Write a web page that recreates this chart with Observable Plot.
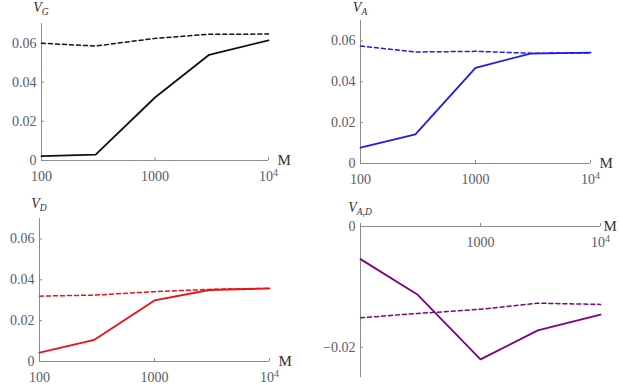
<!DOCTYPE html>
<html><head><meta charset="utf-8">
<script src="https://cdn.jsdelivr.net/npm/d3@7"></script>
<script src="https://cdn.jsdelivr.net/npm/@observablehq/plot@0.6"></script>
<style>
body{margin:0;background:#fff;}
#wrap{position:relative;width:623px;height:385px;overflow:hidden;}
.p{position:absolute;}
</style></head><body><div id="wrap"></div>
<script>
const M = [100, 300, 1000, 3000, 10000];
const vGSolid = [0.0022, 0.0030, 0.0322, 0.0540, 0.0614];
const vGDashed = [0.0599, 0.0585, 0.0624, 0.0645, 0.0646];
const vASolid = [0.0078, 0.0143, 0.0468, 0.0538, 0.0543];
const vADashed = [0.0575, 0.0546, 0.0549, 0.0540, 0.0541];
const vDSolid = [0.0044, 0.0106, 0.0299, 0.0350, 0.0358];
const vDDashed = [0.0320, 0.0325, 0.0342, 0.0353, 0.0358];
const vADSolid = [-0.0054, -0.0113, -0.0220, -0.0172, -0.0146];
const vADDashed = [-0.0151, -0.0144, -0.0137, -0.0127, -0.0129];
const xTicks = [100, 1000, 10000];
const xTickLabels = ["100", "1000", "10^4"];
const yTicksPos = [0, 0.02, 0.04, 0.06];
const yTickLabelsPos = ["0", "0.02", "0.04", "0.06"];
const yTicksNeg = [0, -0.02];
const yTickLabelsNeg = ["0", "−0.02"];

const AXIS = "#8c8c8c", LABEL = "#5a5a6c", FONT = "'Liberation Serif', 'DejaVu Serif', serif";

function panel(o) {
  const data = M.map((m, i) => ({m, s: o.solid[i], d: o.dashed[i]}));
  const xt = o.xIdx.map(i => ({v: xTicks[i], t: xTickLabels[i]}));
  const yt = o.yTicks.map((v, i) => ({v, t: o.yLabels[i]}));
  const chart = Plot.plot({
    width: o.width, height: o.height,
    marginLeft: o.ml, marginRight: o.mr, marginTop: o.mt, marginBottom: o.mb,
    x: {type: "log", domain: [100, 10000], axis: null},
    y: {domain: o.yDomain, axis: null},
    style: {fontFamily: FONT, background: "transparent", overflow: "visible"},
    marks: [
      Plot.ruleX([100], {stroke: AXIS, strokeWidth: 1}),
      Plot.ruleY([0], {stroke: AXIS, strokeWidth: 1}),
      Plot.ruleX(xTicks, {x: d => d, y1: 0, y2: 0, insetTop: -3, stroke: AXIS}),
      Plot.ruleY(o.yTicks, {y: d => d, x1: 100, x2: 100, insetRight: -3, stroke: AXIS}),
      Plot.line(data, {x: "m", y: "d", stroke: o.color, strokeWidth: 1.5, strokeDasharray: "4,3"}),
      Plot.line(data, {x: "m", y: "s", stroke: o.color, strokeWidth: 1.8}),
      Plot.text(xt, {x: "v", y: () => 0, text: "t", dy: 16, fill: LABEL, fontSize: 14, className: "xtl"}),
      Plot.text(yt, {x: () => 100, y: "v", text: "t", dx: -5, textAnchor: "end", fill: LABEL, fontSize: 14}),
      Plot.text([10000], {x: d => d, y: () => 0, text: () => "M", dx: o.mdx, textAnchor: "start", fill: "#333", fontSize: 15})
    ]
  });
  // render "10^4" with a real superscript
  d3.select(chart).selectAll(".xtl text").each(function() {
    const s = this.textContent;
    if (s.includes("^")) {
      const [b, e] = s.split("^");
      const el = d3.select(this);
      el.text("");
      el.append("tspan").text(b);
      el.append("tspan").attr("dy", "-0.45em").attr("font-size", 10).text(e);
    }
  });
  const sx = chart.scale("x"), sy = chart.scale("y");
  const t = d3.select(chart).append("text")
    .attr("x", sx.apply(100))
    .attr("y", sy.apply(o.yDomain[1]) - o.vdy)
    .attr("text-anchor", "middle")
    .attr("font-family", FONT)
    .attr("fill", "#333")
    .attr("font-style", "italic");
  t.append("tspan").attr("font-size", 14).text("V");
  t.append("tspan").attr("font-size", 9.5).attr("dy", 3).text(o.sub);
  const div = document.createElement("div");
  div.className = "p";
  div.style.left = o.left + "px";
  div.style.top = o.top + "px";
  div.appendChild(chart);
  document.getElementById("wrap").appendChild(div);
}

panel({left: 0, top: 0, width: 311, height: 192, ml: 41, mr: 43, mt: 23, mb: 32,
  yDomain: [0, 0.07], solid: vGSolid, dashed: vGDashed, color: "#111",
  sub: "G", xIdx: [0, 1, 2], yTicks: yTicksPos, yLabels: yTickLabelsPos, mdx: 9, vdy: 11});
panel({left: 311, top: 0, width: 312, height: 192, ml: 49, mr: 33, mt: 20, mb: 29,
  yDomain: [0, 0.07], solid: vASolid, dashed: vADashed, color: "#1c1cf2",
  sub: "A", xIdx: [0, 1, 2], yTicks: yTicksPos, yLabels: yTickLabelsPos, mdx: 9, vdy: 8});
panel({left: 0, top: 192, width: 311, height: 193, ml: 39, mr: 42, mt: 26, mb: 24,
  yDomain: [0, 0.07], solid: vDSolid, dashed: vDDashed, color: "#f01010",
  sub: "D", xIdx: [0, 1, 2], yTicks: yTicksPos, yLabels: yTickLabelsPos, mdx: 9, vdy: 10});
panel({left: 311, top: 192, width: 312, height: 193, ml: 49, mr: 23, mt: 34, mb: 8,
  yDomain: [-0.025, 0], solid: vADSolid, dashed: vADDashed, color: "#800080",
  sub: "A,D", xIdx: [1, 2], yTicks: yTicksNeg, yLabels: yTickLabelsNeg, mdx: 3, vdy: 14});
</script></body></html>
